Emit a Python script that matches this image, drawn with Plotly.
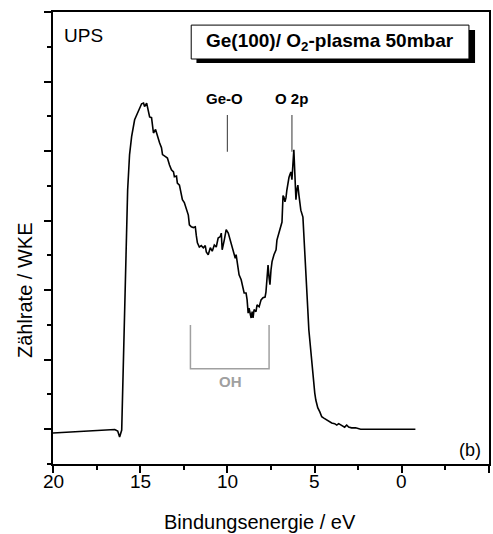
import plotly.graph_objects as go

# ---- data ----
energy = [20.0, 19.03, 17.89, 17.03, 16.46, 16.29, 16.18, 16.06, 15.95, 15.83, 15.72, 15.61, 15.49,
          15.32, 15.15, 15.03, 14.92, 14.81, 14.75, 14.63, 14.58, 14.46, 14.35, 14.24, 14.12, 14.01,
          13.89, 13.78, 13.72, 13.55, 13.44, 13.32, 13.21, 13.09, 13.04, 12.92, 12.87, 12.75, 12.69,
          12.58, 12.47, 12.35, 12.24, 12.18, 12.07, 11.95, 11.84, 11.78, 11.72, 11.61, 11.50, 11.38,
          11.27, 11.21, 11.10, 10.98, 10.87, 10.75, 10.64, 10.53, 10.41, 10.35, 10.30, 10.18, 10.07,
          9.95, 9.84, 9.73, 9.61, 9.55, 9.50, 9.38, 9.33, 9.21, 9.10, 9.04, 8.93, 8.87, 8.81, 8.76,
          8.64, 8.58, 8.53, 8.47, 8.36, 8.30, 8.18, 8.07, 7.96, 7.84, 7.79, 7.73, 7.67, 7.61, 7.56,
          7.50, 7.44, 7.33, 7.21, 7.16, 7.04, 6.93, 6.87, 6.81, 6.76, 6.70, 6.64, 6.59, 6.53, 6.47,
          6.42, 6.36, 6.30, 6.24, 6.19, 6.13, 6.07, 6.02, 5.96, 5.90, 5.79, 5.67, 5.62, 5.56, 5.50,
          5.39, 5.33, 5.22, 5.16, 5.05, 4.99, 4.93, 4.82, 4.70, 4.59, 4.47, 4.30, 4.19, 4.02, 3.85,
          3.73, 3.62, 3.45, 3.28, 3.16, 3.05, 2.88, 2.65, 2.36, 2.08, 1.62, 1.05, 0.48, -0.09, -0.78]
intensity = [0.446, 0.460, 0.475, 0.489, 0.496, 0.475, 0.388, 0.489, 1.50, 2.79, 3.94, 4.45, 4.71,
             4.95, 5.06, 5.12, 5.18, 5.19, 5.14, 5.19, 5.12, 4.99, 4.98, 4.76, 4.81, 4.71,
             4.62, 4.55, 4.45, 4.42, 4.40, 4.30, 4.23, 4.20, 4.13, 4.14, 4.04, 4.01, 3.91,
             3.80, 3.76, 3.68, 3.58, 3.44, 3.41, 3.40, 3.41, 3.28, 3.18, 3.12, 3.14, 3.11,
             3.14, 3.05, 3.01, 3.11, 3.06, 3.15, 3.12, 3.25, 3.27, 3.32, 3.08, 3.22, 3.37,
             3.32, 3.22, 3.12, 3.05, 2.96, 3.01, 2.82, 2.72, 2.65, 2.55, 2.46, 2.46, 2.36, 2.17, 2.24,
             2.10, 2.19, 2.10, 2.22, 2.19, 2.29, 2.26, 2.36, 2.39, 2.40, 2.47, 2.65, 2.86, 2.68, 2.58,
             2.79, 2.91, 3.01, 3.08, 3.22, 3.34, 3.42, 3.48, 3.86, 3.84, 3.77, 3.83, 3.94, 4.06, 4.12,
             4.16, 4.20, 4.09, 4.30, 4.52, 4.16, 3.80, 3.94, 4.01, 3.87, 3.65, 3.55, 3.27, 3.08, 2.65,
             2.22, 1.93, 1.61, 1.45, 1.14, 1.02, 0.92, 0.81, 0.75, 0.68, 0.66, 0.63, 0.62, 0.59, 0.58,
             0.56, 0.58, 0.55, 0.53, 0.56, 0.53, 0.52, 0.52, 0.50, 0.50, 0.50, 0.50, 0.50, 0.50, 0.50]

x_tickvals = [20, 15, 10, 5, 0, -5]
x_ticktext = ["20", "15", "10", "5", "0", "-5"]

marker_energy = [10.0, 6.3]
marker_label = ["Ge-O", "O 2p"]
oh_range = [12.12, 7.61]

FONT = "Liberation Sans, Arial, sans-serif"
GRAY_MARK = "#555555"
GRAY_OH = "#a0a0a0"

fig = go.Figure()
fig.add_trace(go.Scatter(x=energy, y=intensity, mode="lines",
                         line=dict(color="black", width=1.6), hoverinfo="skip"))

# OH bracket
fig.add_trace(go.Scatter(x=[oh_range[0], oh_range[0], oh_range[1], oh_range[1]],
                         y=[2.0, 1.37, 1.37, 2.0], mode="lines",
                         line=dict(color=GRAY_OH, width=1.5), hoverinfo="skip"))

# peak marker lines
for e in marker_energy:
    fig.add_trace(go.Scatter(x=[e, e], y=[4.49, 5.02], mode="lines",
                             line=dict(color=GRAY_MARK, width=1.2), hoverinfo="skip"))

shapes = [
    dict(type="rect", xref="paper", yref="paper", x0=0.329, x1=0.968, y0=0.887, y1=0.960,
         fillcolor="black", line=dict(width=0), layer="above"),
    dict(type="rect", xref="paper", yref="paper", x0=0.317, x1=0.954, y0=0.896, y1=0.971,
         fillcolor="white", line=dict(color="black", width=1), layer="above"),
]

annotations = [
    dict(text="Ge(100)/ O<sub>2</sub>-plasma 50mbar", xref="paper", yref="paper", x=0.635, y=0.934,
         xanchor="center", yanchor="middle", showarrow=False,
         font=dict(family=FONT, size=19, color="black", weight="bold")),
    dict(text="UPS", xref="paper", yref="paper", x=0.02, y=0.949, xanchor="left", yanchor="middle",
         showarrow=False, font=dict(family=FONT, size=19, color="black")),
    dict(text="(b)", xref="paper", yref="paper", x=0.986, y=0.031, xanchor="right", yanchor="middle",
         showarrow=False, font=dict(family=FONT, size=18, color="black")),
    dict(text="OH", xref="x", yref="y", x=9.84, y=1.19, xanchor="center", yanchor="middle",
         showarrow=False, font=dict(family=FONT, size=15, color=GRAY_OH, weight="bold")),
    dict(text="Bindungsenergie / eV", xref="paper", yref="paper", x=0.475, y=-0.128,
         xanchor="center", yanchor="middle", showarrow=False,
         font=dict(family=FONT, size=20, color="black")),
    dict(text="Zählrate / WKE", xref="paper", yref="paper", x=-0.064, y=0.385, textangle=-90,
         xanchor="center", yanchor="middle", showarrow=False,
         font=dict(family=FONT, size=20, color="black")),
]
for e, lab in zip(marker_energy, marker_label):
    annotations.append(dict(text=lab, xref="x", yref="y", x=e + 0.15 if lab == "Ge-O" else e + 0.05,
                            y=5.25, xanchor="center", yanchor="middle", showarrow=False,
                            font=dict(family=FONT, size=15, color="black", weight="bold")))
# x tick labels (placed as text so they sit at the reference's height; the last one
# lies past the page edge in the reference and is left out here)
for v, t in zip(x_tickvals[:-1], x_ticktext[:-1]):
    annotations.append(dict(text=t, xref="x", yref="paper", x=v, y=-0.0398,
                            xanchor="center", yanchor="middle", showarrow=False,
                            font=dict(family=FONT, size=19, color="black")))

fig.update_layout(
    width=493, height=534,
    margin=dict(l=53, r=2, t=12, b=70),
    paper_bgcolor="white", plot_bgcolor="white",
    showlegend=False,
    font=dict(family=FONT, color="black"),
    shapes=shapes, annotations=annotations,
    xaxis=dict(range=[20, -5], tickvals=x_tickvals, ticktext=x_ticktext, showticklabels=False,
               ticks="outside", ticklen=7, tickwidth=1.5, tickcolor="black",
               showline=True, linecolor="black", linewidth=1.5, mirror=True,
               showgrid=False, zeroline=False,
               minor=dict(dtick=2.5, tick0=0, ticks="outside", ticklen=4, tickwidth=1.5,
                          tickcolor="black", showgrid=False)),
    yaxis=dict(range=[0, 6.5], tick0=0.5, dtick=1, showticklabels=False,
               ticks="outside", ticklen=7, tickwidth=1.5, tickcolor="black",
               showline=True, linecolor="black", linewidth=1.5, mirror=True,
               showgrid=False, zeroline=False,
               minor=dict(dtick=0.5, tick0=0, ticks="outside", ticklen=4, tickwidth=1.5,
                          tickcolor="black", showgrid=False)),
)

clip_js = "document.body.style.margin='0';document.body.style.overflow='hidden';"
fig.write_html("out.html", config={"displayModeBar": False}, post_script=clip_js)
